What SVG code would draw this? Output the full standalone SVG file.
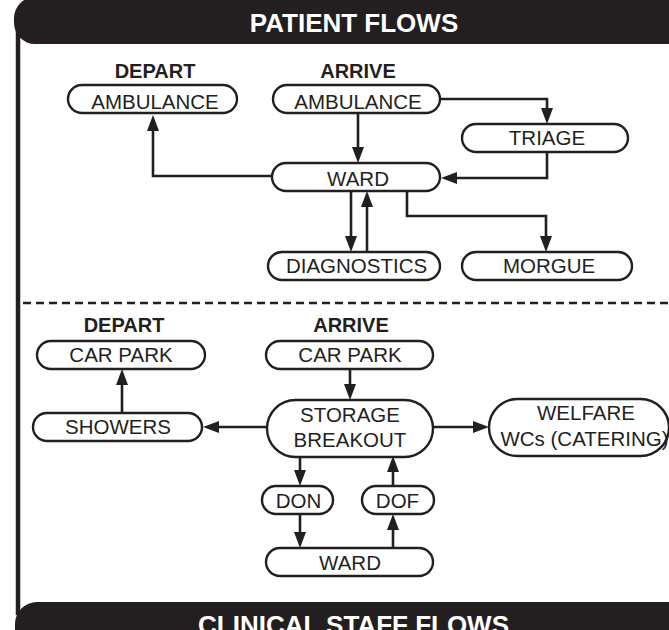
<svg xmlns="http://www.w3.org/2000/svg" width="669" height="630" viewBox="0 0 669 630">
<style>
.bar{fill:#231f20}
.ttl{font-family:"Liberation Sans",Arial,sans-serif;font-weight:bold;font-size:26px;fill:#fff;text-anchor:middle}
.hd{font-family:"Liberation Sans",Arial,sans-serif;font-weight:bold;font-size:20px;fill:#231f20;text-anchor:middle}
.nd rect{fill:#fff;stroke:#231f20;stroke-width:2.4}
.nd text{font-family:"Liberation Sans",Arial,sans-serif;font-size:20.5px;fill:#231f20;text-anchor:middle}
.cn path{fill:none;stroke:#231f20;stroke-width:2.6;marker-end:url(#ah)}
</style>
<defs>
<marker id="ah" markerUnits="userSpaceOnUse" markerWidth="16" markerHeight="12" refX="8" refY="6" orient="auto" viewBox="0 0 16 12">
<path d="M0,0 L16,6 L0,12 z" fill="#231f20"/>
</marker>
</defs>
<rect width="669" height="630" fill="#fff"/>
<g id="frame">
<line x1="18" y1="30" x2="18" y2="615" stroke="#231f20" stroke-width="4.5"/>
<rect class="bar" x="14" y="-3" width="700" height="47" rx="21"/>
<text class="ttl" x="354" y="32">PATIENT FLOWS</text>
<line x1="23" y1="303" x2="669" y2="303" stroke="#231f20" stroke-width="2.5" stroke-dasharray="8 5"/>
<rect class="bar" x="15" y="602" width="700" height="60" rx="22"/>
<text class="ttl" x="353.5" y="634">CLINICAL STAFF FLOWS</text>
</g>
<g id="labels">
<text class="hd" x="155" y="78">DEPART</text>
<text class="hd" x="358" y="78">ARRIVE</text>
<text class="hd" x="124" y="332">DEPART</text>
<text class="hd" x="351" y="332">ARRIVE</text>
</g>
<g id="connectors" class="cn">
<path d="M272,176 H153 V123"/>
<path d="M358,113 V155"/>
<path d="M440,99 H547 V116"/>
<path d="M547,152 V178 H449"/>
<path d="M351,191 V244"/>
<path d="M367,252 V199"/>
<path d="M407,191 V216 H546 V244"/>
<path d="M350,369 V392"/>
<path d="M267,427 H211"/>
<path d="M122,413 V377"/>
<path d="M433,427 H481"/>
<path d="M300,457 V478"/>
<path d="M300,514 V540"/>
<path d="M393,548 V522"/>
<path d="M393,486 V464"/>
</g>
<g id="p-depart-ambulance" class="nd"><rect x="68" y="85" width="169" height="28" rx="14"/><text x="155" y="109">AMBULANCE</text></g>
<g id="p-arrive-ambulance" class="nd"><rect x="273" y="85" width="167" height="28" rx="14"/><text x="358" y="109">AMBULANCE</text></g>
<g id="p-ward" class="nd"><rect x="272" y="163" width="168" height="28" rx="14"/><text x="358" y="186">WARD</text></g>
<g id="p-triage" class="nd"><rect x="462" y="124" width="166" height="28" rx="14"/><text x="547" y="145">TRIAGE</text></g>
<g id="p-diagnostics" class="nd"><rect x="268" y="252" width="172" height="28" rx="14"/><text x="356.5" y="273">DIAGNOSTICS</text></g>
<g id="p-morgue" class="nd"><rect x="462" y="252" width="170" height="28" rx="14"/><text x="549" y="273">MORGUE</text></g>
<g id="s-depart-carpark" class="nd"><rect x="37" y="341" width="168" height="28" rx="14"/><text x="121" y="362">CAR PARK</text></g>
<g id="s-arrive-carpark" class="nd"><rect x="266" y="341" width="167" height="28" rx="14"/><text x="350" y="362">CAR PARK</text></g>
<g id="s-showers" class="nd"><rect x="33" y="413" width="169" height="28" rx="14"/><text x="118" y="434">SHOWERS</text></g>
<g id="s-storage" class="nd"><rect x="267" y="400" width="166" height="57" rx="28.5"/><text x="350" y="422">STORAGE</text><text x="350" y="447">BREAKOUT</text></g>
<g id="s-welfare" class="nd"><rect x="489" y="399" width="180" height="57" rx="28.5"/><text x="586" y="420">WELFARE</text><text x="584.5" y="446">WCs (CATERING)</text></g>
<g id="s-don" class="nd"><rect x="262" y="486" width="71" height="28" rx="14"/><text x="298.5" y="508">DON</text></g>
<g id="s-dof" class="nd"><rect x="362" y="486" width="72" height="28" rx="14"/><text x="397.5" y="508">DOF</text></g>
<g id="s-ward" class="nd"><rect x="266" y="548" width="167" height="28" rx="14"/><text x="350" y="570">WARD</text></g>
</svg>
